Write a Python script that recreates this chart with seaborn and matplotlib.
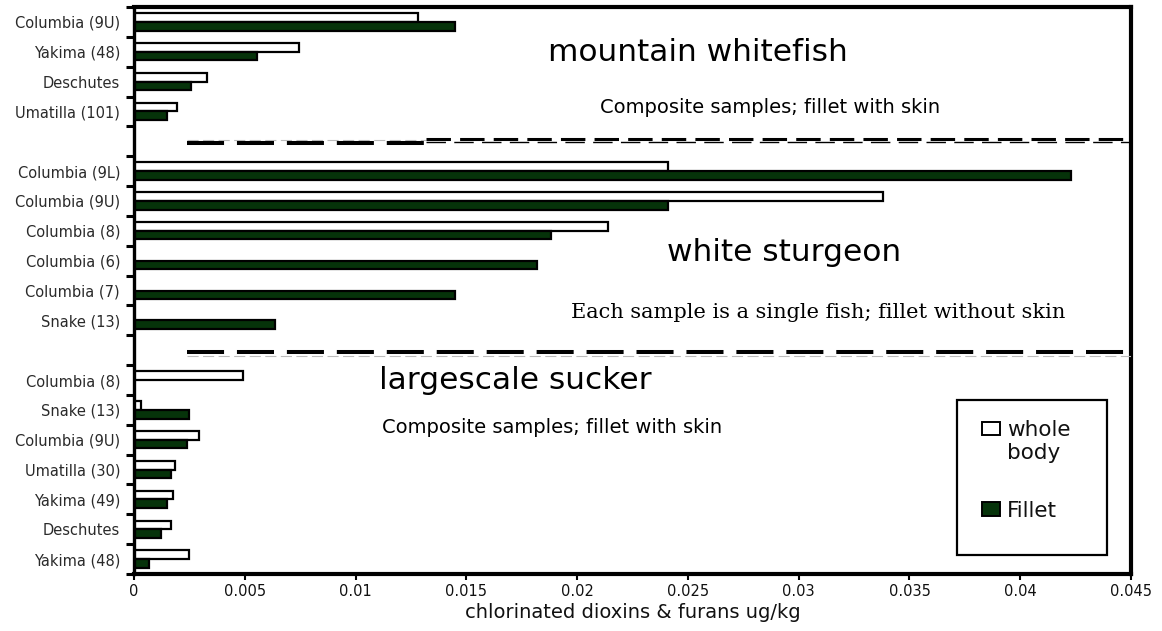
import numpy as np
import pandas as pd
import matplotlib
matplotlib.use("Agg")
import matplotlib.pyplot as plt
import matplotlib.patches as mpatches
from matplotlib.legend_handler import HandlerPatch
import seaborn as sns

# ---------------- data ----------------
mw_labels = ["Columbia (9U)", "Yakima (48)", "Deschutes", "Umatilla (101)"]
mw_whole = [0.0128, 0.00745, 0.0033, 0.00194]
mw_fillet = [0.0145, 0.00555, 0.00257, 0.00149]

ws_labels = ["Columbia (9L)", "Columbia (9U)", "Columbia (8)", "Columbia (6)",
             "Columbia (7)", "Snake (13)"]
ws_whole = [0.0241, 0.0338, 0.0214, np.nan, np.nan, np.nan]
ws_fillet = [0.0423, 0.0241, 0.0188, 0.0182, 0.0145, 0.00636]

ls_labels = ["Columbia (8)", "Snake (13)", "Columbia (9U)", "Umatilla (30)",
             "Yakima (49)", "Deschutes", "Yakima (48)"]
ls_whole = [0.00492, 0.0003, 0.00295, 0.00185, 0.00176, 0.00167, 0.00249]
ls_fillet = [np.nan, 0.00249, 0.0024, 0.00167, 0.00149, 0.00122, 0.00068]

series_names = ["whole body", "Fillet"]
x_ticks = [0, 0.005, 0.01, 0.015, 0.02, 0.025, 0.03, 0.035, 0.04, 0.045]
x_ticklabels = ["0", "0.005", "0.01", "0.015", "0.02", "0.025", "0.03",
                "0.035", "0.04", "0.045"]
x_title = "chlorinated dioxins & furans ug/kg"

# ---------------- build long table ----------------
rows = []
keys, tick_text = [], []
def add_group(prefix, labels, whole, fillet):
    for i, (lab, w, f) in enumerate(zip(labels, whole, fillet)):
        k = f"{prefix}{i}"
        keys.append(k)
        tick_text.append(lab)
        rows.append((k, series_names[0], w))
        rows.append((k, series_names[1], f))

add_group("mw", mw_labels, mw_whole, mw_fillet)
keys.append("gap1"); tick_text.append("")
add_group("ws", ws_labels, ws_whole, ws_fillet)
keys.append("gap2"); tick_text.append("")
add_group("ls", ls_labels, ls_whole, ls_fillet)

df = pd.DataFrame(rows, columns=["key", "series", "value"]).dropna()

# ---------------- style ----------------
sns.set_theme(style="white")
plt.rcParams["font.family"] = ["DejaVu Sans"]

W, H = 1162, 631
fig = plt.figure(figsize=(W / 100, H / 100), dpi=100)
ax_l, ax_r, ax_t, ax_b = 134, 1131, 7, 574
ax = fig.add_axes([ax_l / W, 1 - ax_b / H, (ax_r - ax_l) / W, (ax_b - ax_t) / H])

dark = "#06330a"
palette = {series_names[0]: "white", series_names[1]: dark}
sns.barplot(data=df, x="value", y="key", hue="series", order=keys,
            hue_order=series_names, palette=palette, orient="h", width=0.58,
            edgecolor="black", linewidth=1.6, errorbar=None, legend=False,
            dodge=True, saturation=1, ax=ax)

n = len(keys)
ax.set_ylim(n - 0.5, -0.5)
ax.set_xlim(0, 0.045)

# y axis: tick marks at slot boundaries, labels at slot centers
ax.set_yticks(np.arange(-0.5, n, 1.0))
ax.set_yticklabels([])
ax.set_yticks(np.arange(n), minor=True)
ax.set_yticklabels(tick_text, minor=True, fontsize=10.5, color="#2a2a2a")
ax.tick_params(axis="y", which="major", direction="out", length=6, width=2.2,
               color="black", left=True)
ax.tick_params(axis="y", which="minor", length=0, pad=10)
ax.set_ylabel("")

ax.set_xticks(x_ticks)
ax.set_xticklabels(x_ticklabels, fontsize=10.5, color="#111111")
ax.tick_params(axis="x", direction="out", length=4, width=1.5, color="black",
               bottom=True, pad=3)
ax.set_xlabel(x_title, fontsize=14, labelpad=3, color="#111111")

for s in ["top", "bottom", "right"]:
    ax.spines[s].set_visible(True)
    ax.spines[s].set_color("black")
    ax.spines[s].set_linewidth(3)
ax.spines["left"].set_color("black")
ax.spines["left"].set_linewidth(2.4)
ax.grid(False)

# ---------------- separator lines ----------------
g1 = keys.index("gap1")
g2 = keys.index("gap2")
xs0, xsplit, xs1 = 0.0024, 0.0132, 0.045
ax.plot([xs0, xsplit], [g1 - 0.043, g1 - 0.043], color="#bbbbbb", lw=0.8,
        ls=(0, (10, 4)), zorder=3)
ax.plot([xs0, xsplit], [g1 + 0.074, g1 + 0.074], color="black", lw=2.9,
        ls=(0, (9.2, 3.2)), zorder=3)
ax.plot([xsplit, xs1], [g1 - 0.093, g1 - 0.093], color="black", lw=2.2,
        ls=(0, (8, 3)), zorder=3)
ax.plot([xsplit, xs1], [g1 + 0.024, g1 + 0.024], color="black", lw=1.0,
        ls=(0, (14, 6)), zorder=3)
ax.plot([xs0, xs1], [g2 + 0.06, g2 + 0.06], color="black", lw=2.9,
        ls=(0, (9.2, 3.2)), zorder=3)
ax.plot([xs0, xs1], [g2 + 0.2, g2 + 0.2], color="#bbbbbb", lw=0.8,
        ls=(0, (10, 4)), zorder=3)

# ---------------- annotations ----------------
ax.text(0.02546, 1.01, "mountain whitefish", fontsize=22.5, ha="center",
        va="center", color="black")
ax.text(0.0287, 2.88, "Composite samples; fillet with skin", fontsize=14,
        ha="center", va="center", color="black")
ax.text(0.02934, 7.71, "white sturgeon", fontsize=22.5, ha="center",
        va="center", color="black")
ax.text(0.03087, 9.75, "Each sample is a single fish; fillet without skin",
        fontsize=15, ha="center", va="center", color="black",
        family=["DejaVu Serif"])
ax.text(0.0172, 12.03, "largescale sucker", fontsize=22.5, ha="center",
        va="center", color="black")
ax.text(0.01887, 13.58, "Composite samples; fillet with skin", fontsize=14,
        ha="center", va="center", color="black")

# ---------------- legend ----------------
fig.patches.append(mpatches.Rectangle((957 / W, 1 - 555 / H), 150 / W, 155 / H,
                                      transform=fig.transFigure, fill=False,
                                      edgecolor="black", lw=1.6, zorder=5))
h_whole = mpatches.Patch(facecolor="white", edgecolor="black", lw=1.4)
h_fillet = mpatches.Patch(facecolor=dark, edgecolor="black", lw=1.4)

def shifted_patch(legend, orig_handle, xdescent, ydescent, width, height, fontsize):
    return mpatches.Rectangle((-xdescent, -ydescent + 0.62 * fontsize), width, height)

leg = ax.legend([h_whole, h_fillet], ["whole\nbody", "Fillet"],
                handler_map={h_whole: HandlerPatch(patch_func=shifted_patch)},
                loc="upper left", bbox_to_anchor=(982 / W, 1 - 420 / H),
                bbox_transform=fig.transFigure, frameon=False, fontsize=15.5,
                handlelength=0.85, handleheight=0.6, handletextpad=0.3,
                labelspacing=1.75, borderpad=0, borderaxespad=0)
for t in leg.get_texts():
    t.set_color("#111111")

fig.savefig("out.png", dpi=100)
